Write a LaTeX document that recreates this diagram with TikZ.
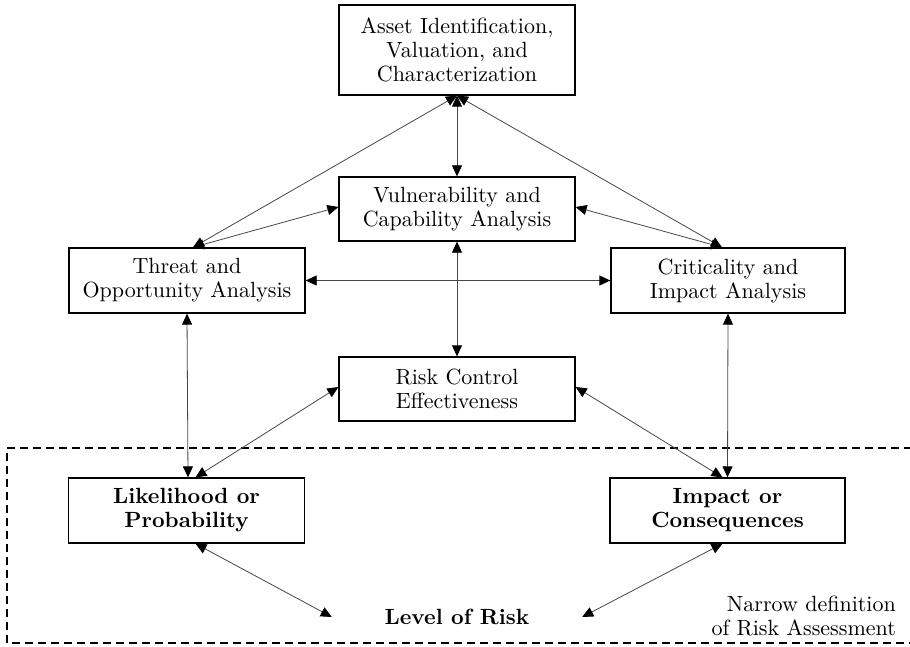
\documentclass[tikz,border=0pt]{standalone}
\usepackage{fontspec}
\setmainfont{lmroman10-regular}[Extension=.otf, BoldFont=lmroman10-bold]
\usetikzlibrary{arrows.meta}
\begin{document}
\begin{tikzpicture}[x=1pt, y=-1pt,
  font=\fontsize{22}{24}\selectfont,
  box/.style={draw=black, line width=1.3pt, inner sep=0pt, align=center,
              minimum width=236pt, minimum height=64pt},
  link/.style={draw=black!72, line width=0.8pt,
               {Triangle[length=11pt,width=10pt,color=black]}-{Triangle[length=11pt,width=10pt,color=black]}},
  scope/.style={draw=black, line width=1.4pt, dash pattern=on 8pt off 5pt}]
  \useasboundingbox (0,0) rectangle (910,647);

  % boxes
  \node[box, minimum height=90pt] (asset) at (457,50) {Asset Identification,\\Valuation, and\\Characterization};
  \node[box] (vuln)   at (457,209)   {Vulnerability and\\Capability Analysis};
  \node[box, minimum height=65pt] (threat) at (187,280.5) {Threat and\\Opportunity Analysis};
  \node[box, minimum width=234pt, minimum height=65pt] (crit) at (728,280.5) {Criticality and\\Impact Analysis};
  \node[box] (ctrl)   at (457,389)   {Risk Control\\Effectiveness};
  \node[box, minimum height=65pt] (like) at (186.5,510.5) {\bfseries Likelihood or\\\bfseries Probability};
  \node[box, minimum width=235pt, minimum height=65pt] (imp) at (727.5,510.5) {\bfseries Impact or\\\bfseries Consequences};
  \node[minimum width=250pt, inner sep=0pt, font=\fontsize{22}{24}\selectfont\bfseries] (lor) at (457,617) {Level of Risk};
  \node[anchor=east, align=right, inner sep=0pt] (narrow) at (896,616) {Narrow definition\\of Risk Assessment};

  % boundary of the narrow definition (open on the right)
  \draw[scope] (912,448) -- (7,448) -- (7,643) -- (912,643);

  % connectors
  \draw[link] (asset.south) -- (vuln.north);
  \draw[link] (asset.south) -- ([xshift=6pt]threat.north);
  \draw[link] (asset.south) -- ([xshift=-6pt]crit.north);
  \draw[link] ([xshift=6pt]threat.north) -- ([yshift=2pt]vuln.west);
  \draw[link] ([xshift=-6pt]crit.north) -- ([yshift=2pt]vuln.east);
  \draw[link] (threat.east) -- (crit.west);
  \draw[link] (vuln.south) -- (ctrl.north);
  \draw[link] (threat.south) -- ([xshift=1.5pt]like.north);
  \draw[link] (crit.south) -- (imp.north);
  \draw[link] ([yshift=2pt]ctrl.west) -- ([xshift=9pt]like.north);
  \draw[link] ([yshift=2pt]ctrl.east) -- ([xshift=-5pt]imp.north);
  \draw[link] ([xshift=9pt]like.south) -- (lor.west);
  \draw[link] ([xshift=-5pt]imp.south) -- (lor.east);
\end{tikzpicture}
\end{document}
